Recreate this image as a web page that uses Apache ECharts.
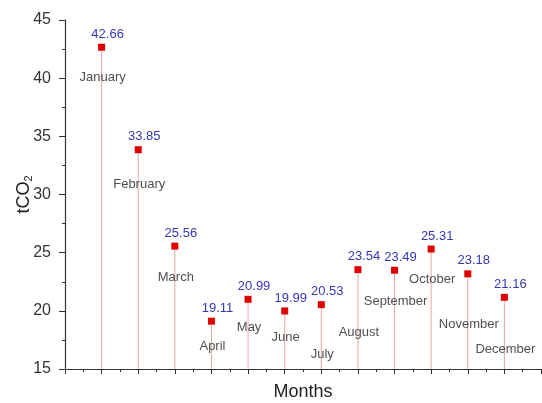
<!DOCTYPE html>
<html>
<head>
<meta charset="utf-8">
<script src="https://cdn.jsdelivr.net/npm/echarts@6/dist/echarts.min.js"></script>
<style>
  html, body { margin: 0; padding: 0; background: #fff; }
  #chart { width: 542px; height: 403px; }
</style>
</head>
<body>
<div id="chart"></div>
<script>
// Monthly emissions (tCO2)
const months = ['January', 'February', 'March', 'April', 'May', 'June',
  'July', 'August', 'September', 'October', 'November', 'December'];
const emissions = [42.66, 33.85, 25.56, 19.11, 20.99, 19.99,
  20.53, 23.54, 23.49, 25.31, 23.18, 21.16];
const yTicks = [15, 20, 25, 30, 35, 40, 45];

// Vertical distance of each month name below its marker
const monthLabelDrop = [30, 35, 31, 25, 28, 26, 50, 63, 31, 30, 51, 52];

const points = months.map((m, i) => [i + 1, emissions[i]]);

const chart = echarts.init(document.getElementById('chart'), null, { renderer: 'canvas' });

chart.setOption({
  animation: false,
  backgroundColor: '#ffffff',
  grid: { left: 65, right: 1, top: 20, bottom: 34, containLabel: false, outerBoundsMode: 'none' },
  xAxis: {
    type: 'value',
    min: 0,
    max: 13,
    interval: 1,
    name: 'Months',
    nameLocation: 'middle',
    nameGap: 14,
    nameTextStyle: { fontFamily: 'Liberation Sans, Arial', fontSize: 18, color: '#222' },
    axisLine: { lineStyle: { color: '#333', width: 1.2 } },
    axisTick: { show: true, inside: false, length: 5, lineStyle: { color: '#333' } },
    minorTick: { show: true, splitNumber: 2, length: 3, lineStyle: { color: '#333' } },
    axisLabel: { show: false },
    splitLine: { show: false }
  },
  yAxis: {
    type: 'value',
    min: yTicks[0],
    max: yTicks[yTicks.length - 1],
    interval: 5,
    name: 'tCO{sub|2}',
    nameLocation: 'middle',
    nameRotate: 90,
    nameGap: 31,
    nameMoveOverlap: false,
    nameTextStyle: {
      fontFamily: 'Liberation Sans, Arial', fontSize: 18, color: '#222', lineHeight: 20,
      rich: { sub: { fontSize: 11, lineHeight: 20, verticalAlign: 'bottom', color: '#222' } }
    },
    axisLine: { show: true, lineStyle: { color: '#333', width: 1.2 } },
    axisTick: { show: true, inside: false, length: 6, lineStyle: { color: '#333' } },
    minorTick: { show: true, splitNumber: 2, length: 3, lineStyle: { color: '#333' } },
    axisLabel: { fontFamily: 'Liberation Sans, Arial', fontSize: 16, color: '#333', margin: 14 },
    splitLine: { show: false }
  },
  series: [
    {
      // stems from the baseline up to each value
      type: 'bar',
      data: points,
      barWidth: 1,
      itemStyle: { color: '#eaa6a6' },
      silent: true,
      z: 1
    },
    {
      // markers with value labels
      type: 'scatter',
      data: points,
      symbol: 'rect',
      symbolSize: 7,
      itemStyle: { color: '#e00000', opacity: 1 },
      label: {
        show: true,
        position: 'top',
        distance: 3,
        offset: [6, 0],
        formatter: p => p.value[1].toFixed(2),
        fontFamily: 'Liberation Sans, Arial',
        fontSize: 13,
        color: '#3636b8'
      },
      z: 3
    },
    {
      // month names beneath markers
      type: 'scatter',
      data: points.map((p, i) => ({
        value: p,
        label: { offset: [1, monthLabelDrop[i]] }
      })),
      symbolSize: 1,
      itemStyle: { color: 'rgba(0,0,0,0)' },
      label: {
        show: true,
        position: 'inside',
        formatter: p => months[p.dataIndex],
        fontFamily: 'Liberation Sans, Arial',
        fontSize: 13,
        color: '#222'
      },
      silent: true,
      z: 4
    }
  ]
});
</script>
</body>
</html>
